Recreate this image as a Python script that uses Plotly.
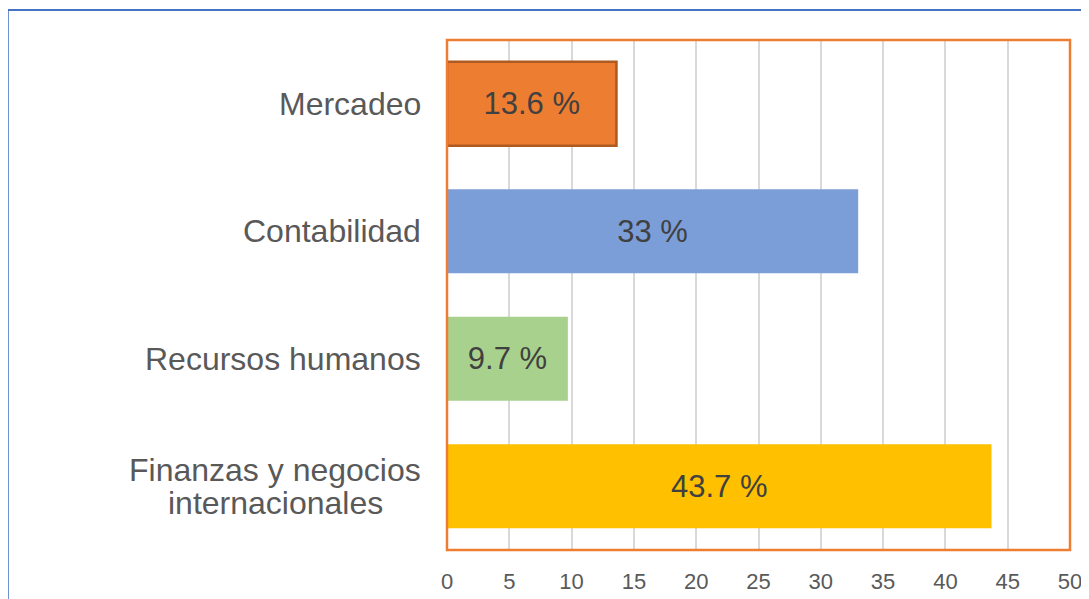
import plotly.graph_objects as go

# data (top to bottom as shown)
categories = ["Mercadeo", "Contabilidad", "Recursos humanos",
              "Finanzas y negocios<br>internacionales"]
values = [13.6, 33, 9.7, 43.7]
labels = ["13.6 %", "33 %", "9.7 %", "43.7 %"]
bar_colors = ["#ED7D31", "#7C9ED8", "#A9D18E", "#FFC000"]
bar_lines = ["#AE5A21", "#7C9ED8", "#A9D18E", "#FFC000"]
x_ticks = [0, 5, 10, 15, 20, 25, 30, 35, 40, 45, 50]

label_font = dict(family="Liberation Sans, Arial, sans-serif", size=32, color="#595959")

fig = go.Figure()

fig.add_trace(go.Bar(
    y=categories, x=values, orientation="h",
    marker=dict(color=bar_colors, line=dict(color=bar_lines, width=[2.5, 0, 0, 0])),
    width=0.66,
    text=labels, textposition="inside", insidetextanchor="middle",
    textangle=0, constraintext="none",
    textfont=dict(family="Liberation Sans, Arial, sans-serif", size=31, color="#404040"),
    showlegend=False, hoverinfo="skip",
))

# category labels, centred lines with tight line spacing like the original
for cat in categories:
    lines = cat.split("<br>")
    n = len(lines)
    for i, line in enumerate(lines):
        fig.add_annotation(
            x=-0.0385, xref="paper", y=cat, yref="y",
            text=line, showarrow=False, xanchor="center" if n > 1 else "right",
            yanchor="middle", align="center",
            xshift=-148 if n > 1 else 0,
            yshift=((n - 1) / 2 - i) * 33,
            font=label_font,
        )

# orange plot border and blue outer frame (left/top only visible)
fig.add_shape(type="rect", xref="paper", yref="paper", x0=0, x1=1, y0=0, y1=1,
              line=dict(color="#ED7D31", width=2.5), layer="above")
fig.add_shape(type="line", xref="paper", yref="paper", x0=-0.705, x1=1.2, y0=1.059, y1=1.059,
              line=dict(color="#4472C4", width=2))
fig.add_shape(type="line", xref="paper", yref="paper", x0=-0.705, x1=-0.705, y0=1.059, y1=-0.3,
              line=dict(color="#4472C4", width=2))

# page body has an 8px margin, so the figure is 8px smaller and margins shifted
fig.update_layout(
    width=1081, height=591,
    paper_bgcolor="white", plot_bgcolor="white",
    margin=dict(l=439, r=19, t=32, b=49),
    xaxis=dict(
        range=[0, 50], tickvals=x_ticks, showgrid=True,
        gridcolor="#D9D9D9", gridwidth=1.5, zeroline=False,
        ticklabelstandoff=16, automargin=False,
        tickfont=dict(family="Liberation Sans Narrow, Arial Narrow, sans-serif",
                      size=22, color="#595959"),
        fixedrange=True,
    ),
    yaxis=dict(
        autorange="reversed", showticklabels=False, showgrid=False,
        zeroline=False, fixedrange=True, automargin=False,
    ),
    bargap=0.34,
)

fig.write_html("out.html")
